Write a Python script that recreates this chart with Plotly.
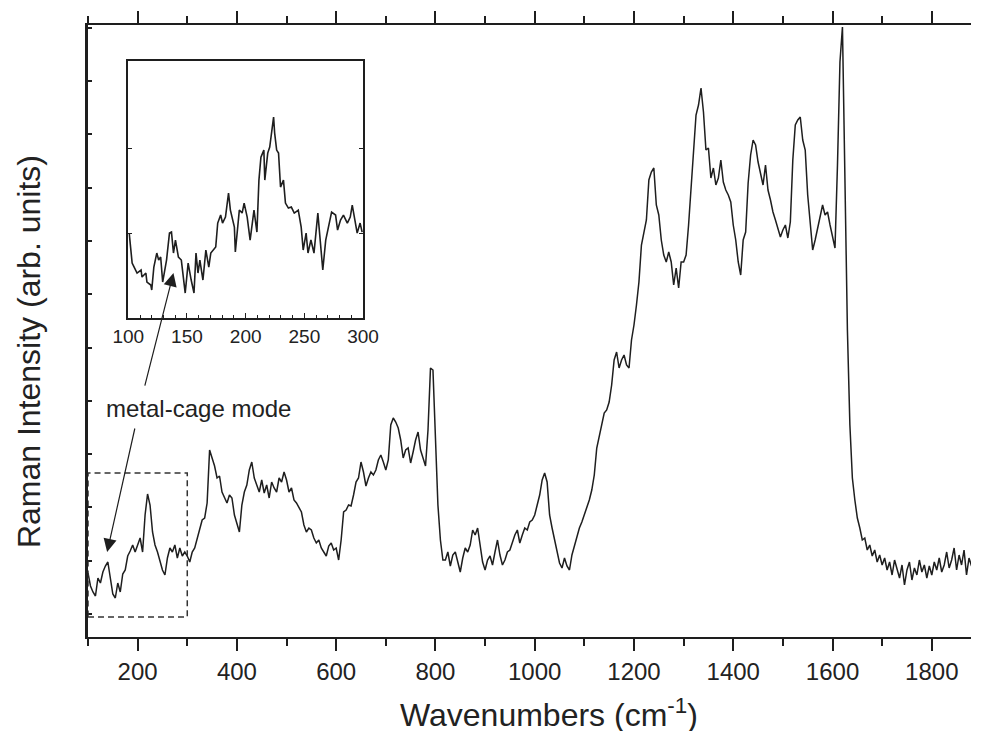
import plotly.graph_objects as go

# ---------------- data ----------------
# Main spectrum: wavenumber grid start/step (cm^-1) and intensity (arb. units)
main_start = 100
main_step = 5
main_intensity = [
    # 100-195
    64, 51, 45, 41, 59, 54, 65, 71, 75, 57, 43, 39, 54, 45, 63, 67, 81, 86, 92, 85,
    # 200-295
    92, 99, 85, 122, 143, 132, 105, 92, 85, 77, 67, 62, 79, 89, 85, 92, 79, 89, 81, 85,
    # 300-395
    81, 75, 85, 89, 99, 107, 117, 119, 134, 187, 179, 171, 159, 161, 145, 139, 134, 142, 139, 122,
    # 400-495
    112, 105, 132, 145, 152, 167, 175, 159, 152, 145, 157, 144, 152, 139, 155, 149, 145, 159, 155, 165,
    # 500-595
    157, 145, 149, 137, 134, 129, 125, 112, 105, 109, 107, 99, 94, 97, 89, 85, 81, 91, 94, 87,
    # 600-695
    89, 77, 97, 125, 127, 132, 131, 142, 155, 159, 175, 165, 151, 159, 165, 162, 167, 177, 182, 175,
    # 700-795
    167, 177, 212, 219, 215, 209, 197, 179, 187, 189, 174, 185, 197, 205, 187, 179, 171, 207, 269, 267,
    # 800-895
    207, 132, 97, 77, 77, 85, 71, 82, 85, 75, 65, 79, 89, 85, 92, 107, 102, 109, 92, 75,
    # 900-995
    67, 77, 81, 72, 85, 97, 82, 72, 77, 85, 87, 95, 102, 107, 94, 102, 109, 107, 115, 117,
    # 1000-1095
    122, 132, 142, 157, 164, 155, 122, 109, 97, 87, 74, 69, 79, 71, 67, 82, 92, 102, 109, 115,
    # 1100-1195
    122, 129, 137, 147, 162, 189, 202, 212, 224, 227, 235, 252, 277, 285, 269, 277, 282, 272, 269, 297,
    # 1200-1295
    312, 332, 355, 392, 405, 417, 457, 465, 469, 432, 422, 397, 382, 375, 385, 375, 352, 369, 349, 375,
    # 1300-1395
    375, 382, 412, 447, 492, 522, 532, 549, 525, 487, 489, 459, 469, 452, 459, 477, 455, 447, 442, 435,
    # 1400-1495
    412, 397, 375, 362, 397, 405, 454, 482, 497, 492, 475, 462, 452, 472, 447, 437, 425, 417, 409, 400,
    # 1500-1595
    407, 412, 399, 415, 477, 512, 517, 520, 497, 487, 442, 412, 387, 397, 409, 419, 432, 422, 425, 412,
    # 1600-1695
    399, 389, 472, 575, 610, 447, 307, 212, 159, 137, 119, 109, 97, 99, 87, 92, 81, 87, 75, 82,
    # 1700-1795
    72, 79, 67, 75, 62, 77, 69, 59, 72, 52, 67, 75, 57, 69, 62, 77, 65, 72, 59, 71,
    # 1800-1880
    62, 75, 67, 79, 65, 72, 85, 69, 77, 89, 67, 82, 72, 87, 62, 79, 71,
]
main_wavenumber = [main_start + main_step * i for i in range(len(main_intensity))]

# Inset (100-300 cm^-1, magnified)
inset_wavenumber = [
    100.8, 102.5, 103.3, 105.0, 107.5, 110.9, 111.7, 115.0, 115.9, 119.2,
    120.0, 121.8, 123.4, 124.3, 125.9, 127.6, 129.3, 131.8, 132.6, 135.1,
    136.8, 138.5, 140.2, 142.7, 145.2, 148.5, 151.0, 153.6, 156.0, 157.7,
    159.4, 161.0, 163.6, 166.1, 168.6, 170.3, 174.5, 176.2, 178.7, 180.3,
    182.8, 185.4, 187.0, 190.4, 191.2, 194.6, 197.0, 198.7, 201.3, 203.8,
    207.1, 209.6, 211.3, 213.0, 215.5, 216.3, 218.8, 220.5, 222.2, 223.8,
    224.7, 226.4, 228.0, 229.7, 232.2, 233.9, 236.4, 238.9, 241.4, 244.8,
    247.3, 249.0, 251.5, 253.1, 255.6, 258.2, 261.5, 263.2, 265.7, 268.2,
    270.8, 273.2, 276.6, 278.3, 280.8, 283.3, 286.6, 289.1, 290.8, 293.3,
    295.0, 297.5, 299.2,
]
inset_intensity = [
    85, 61, 55, 51, 45, 48, 41, 45, 36, 33,
    28, 51, 63, 65, 58, 61, 36, 51, 58, 85,
    86, 65, 78, 61, 58, 25, 55, 38, 25, 65,
    45, 58, 38, 68, 51, 65, 71, 95, 103, 95,
    101, 125, 108, 91, 66, 108, 105, 115, 101, 78,
    108, 86, 138, 161, 168, 138, 165, 171, 188, 201,
    185, 168, 165, 131, 138, 115, 110, 111, 105, 108,
    91, 68, 85, 65, 78, 65, 105, 78, 48, 78,
    91, 106, 103, 88, 98, 103, 95, 101, 113, 95,
    85, 95, 86,
]

x_ticks = [200, 400, 600, 800, 1000, 1200, 1400, 1600, 1800]
inset_x_ticks = [100, 150, 200, 250, 300]

# ---------------- figure ----------------
FONT = "Liberation Sans, Arial, Helvetica, sans-serif"
INK = "#1e1e1e"

fig = go.Figure()
fig.add_trace(go.Scatter(
    x=main_wavenumber, y=main_intensity, mode="lines",
    line=dict(color=INK, width=1.5), xaxis="x", yaxis="y", showlegend=False,
    hoverinfo="skip"))
fig.add_trace(go.Scatter(
    x=inset_wavenumber, y=inset_intensity, mode="lines",
    line=dict(color=INK, width=1.6), xaxis="x2", yaxis="y2", showlegend=False,
    hoverinfo="skip"))

fig.update_layout(
    autosize=False,
    width=987, height=731,
    margin=dict(l=88, r=0, t=25, b=94),
    paper_bgcolor="white", plot_bgcolor="white",
    font=dict(family=FONT, color=INK),
    xaxis=dict(
        domain=[0, 1], anchor="y", range=[100, 1879],
        showline=True, linewidth=2, linecolor=INK, mirror="ticks",
        ticks="outside", ticklen=12, tickwidth=2, tickcolor=INK,
        tickvals=x_ticks, tickfont=dict(size=24, color="#222"),
        minor=dict(dtick=100, tick0=0, ticks="outside", ticklen=7, tickwidth=2, tickcolor=INK),
        showgrid=False, zeroline=False,
    ),
    yaxis=dict(
        domain=[0, 1], anchor="x", range=[0, 612],
        showline=True, linewidth=3, linecolor=INK,
        ticks="inside", ticklen=4, tickwidth=2, tickcolor=INK,
        tick0=23, dtick=53.3, showticklabels=False,
        showgrid=False, zeroline=False,
    ),
    xaxis2=dict(
        domain=[0.0456, 0.3115], anchor="y2", range=[100, 300],
        showline=True, linewidth=1.5, linecolor=INK, mirror=True,
        ticks="inside", ticklen=5, tickwidth=1.3, tickcolor=INK,
        tickvals=inset_x_ticks, tickfont=dict(size=19, color="#222"),
        minor=dict(dtick=10, tick0=100, ticks="inside", ticklen=3, tickwidth=1.2, tickcolor=INK),
        showgrid=False, zeroline=False,
    ),
    yaxis2=dict(
        domain=[0.5212, 0.941], anchor="x2", range=[0, 257],
        showline=True, linewidth=1.5, linecolor=INK, mirror="ticks",
        ticks="inside", ticklen=4, tickwidth=1.3, tickcolor=INK,
        tickvals=[85, 170], showticklabels=False,
        showgrid=False, zeroline=False,
    ),
    shapes=[dict(
        type="rect", xref="x", yref="y", x0=100, x1=300, y0=20, y1=164,
        line=dict(color="#333", width=1.5, dash="6px,4px"), layer="above")],
    annotations=[
        dict(text="Wavenumbers (cm<sup>-1</sup>)", xref="paper", yref="paper",
             x=0.5217, y=-0.1235, xanchor="center", yanchor="middle",
             showarrow=False, font=dict(size=32, color="#222")),
        dict(text="Raman Intensity (arb. units)", xref="paper", yref="paper",
             x=-0.0667, y=0.4657, xanchor="center", yanchor="middle", textangle=-90,
             showarrow=False, font=dict(size=32, color="#222")),
        dict(text="metal-cage mode", xref="paper", yref="paper",
             x=0.1246, y=0.374, xanchor="center", yanchor="middle",
             showarrow=False, font=dict(size=24, color="#222")),
        dict(text="", xref="x", yref="y", x=138.6, y=85, ax=28, ay=-125,
             showarrow=True, arrowhead=2, arrowsize=2.2, arrowwidth=1.2,
             arrowcolor=INK, standoff=0),
        dict(text="", xref="x2", yref="y2", x=138.5, y=45, ax=-29, ay=114,
             showarrow=True, arrowhead=2, arrowsize=2.2, arrowwidth=1.2,
             arrowcolor=INK, standoff=0),
    ],
)

# Remove the default page margin so the 987x731 figure fills the window exactly.
fig.write_html(
    "out.html",
    config={"responsive": False, "displayModeBar": False},
    post_script="document.body.style.margin='0';document.body.style.overflow='hidden';",
)
